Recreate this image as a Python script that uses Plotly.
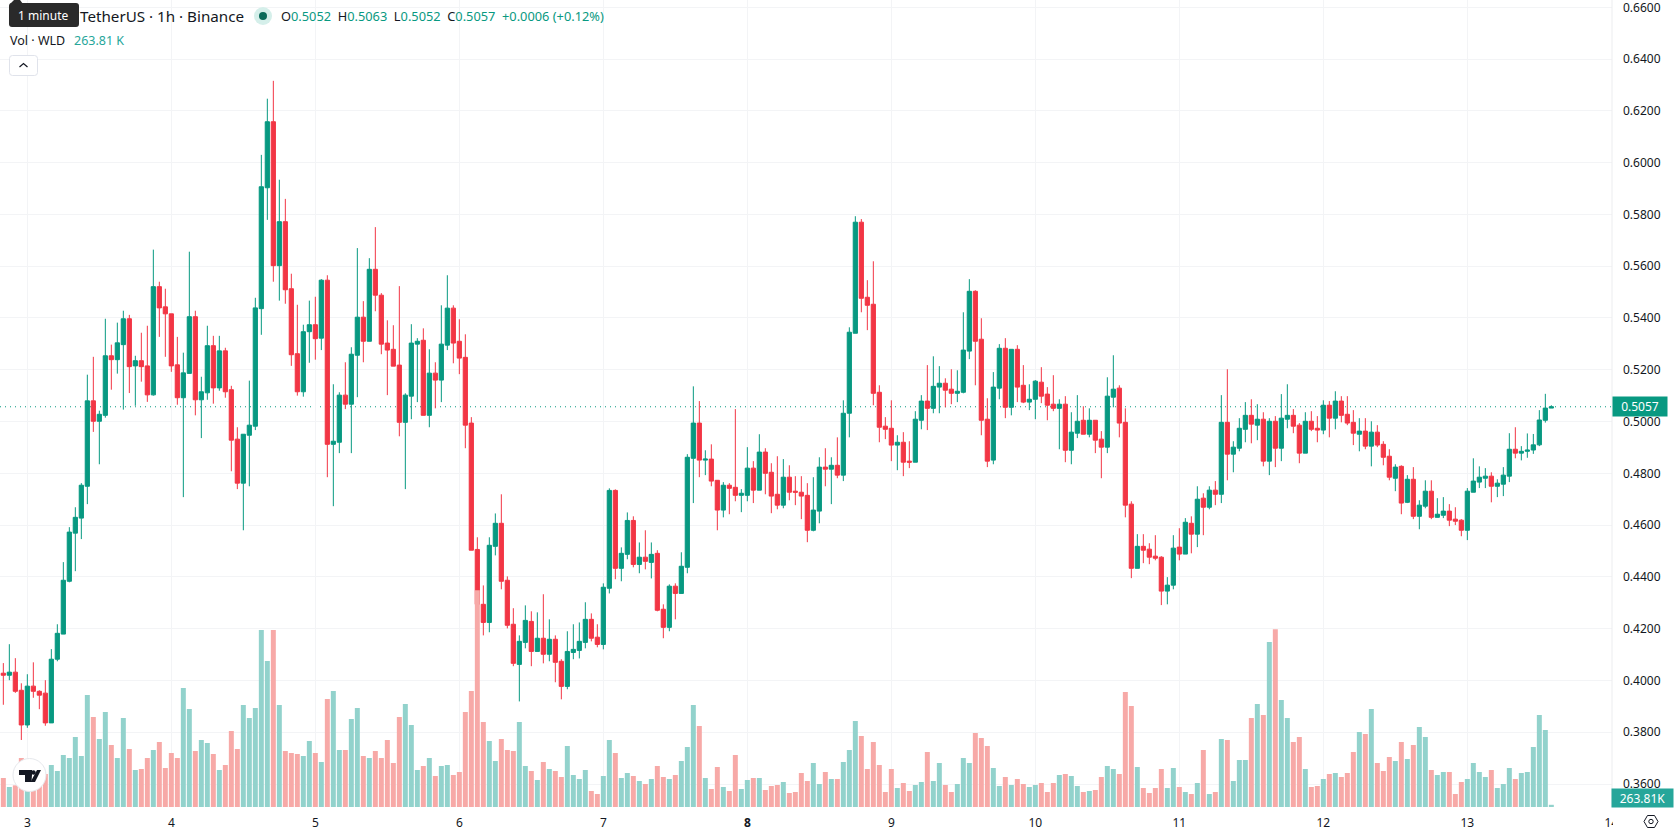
import plotly.graph_objects as go

W, H = 1678, 835
PANE_RIGHT, PANE_BOTTOM = 1612, 807

# Hourly WLD/USDT candles, oldest first
OPEN = [
    .4028,.4020,.4032,.3962,.3828,.3978,.3958,.3951,.3836,.4082,
    .4179,.4383,.4569,.4627,.4750,.5080,.5001,.5024,.5254,.5239,
    .5297,.5397,.5215,.5235,.5215,.5103,.5521,.5443,.5416,.5219,
    .5092,.5186,.5405,.5084,.5111,.5293,.5130,.5273,.5123,.4932,
    .4762,.4947,.4982,.5436,.5903,.6158,.5602,.5772,.5513,.5262,
    .5115,.5347,.5374,.5322,.5546,.4912,.4920,.5102,.5067,.5256,
    .5403,.5310,.5588,.5488,.5303,.5279,.5218,.4997,.5098,.5299,
    .5314,.5024,.5187,.5160,.5295,.5438,.5310,.5248,.4994,.4506,
    .4294,.4224,.4518,.4607,.4387,.4217,.4062,.4147,.4228,.4112,
    .4163,.4101,.4159,.4074,.3977,.4108,.4116,.4147,.4236,.4167,
    .4139,.4356,.4734,.4433,.4487,.4618,.4448,.4476,.4456,.4491,
    .4275,.4205,.4364,.4336,.4437,.4858,.4994,.4851,.4855,.4773,
    .4658,.4754,.4746,.4715,.4715,.4820,.4735,.4882,.4804,.4719,
    .4677,.4785,.4731,.4727,.4715,.4580,.4654,.4824,.4816,.4831,
    .4793,.5032,.5341,.5770,.5480,.5453,.5113,.4982,.4974,.4909,
    .4920,.4847,.4843,.5005,.5079,.5051,.5133,.5148,.5125,.5109,
    .5113,.5272,.5503,.5318,.5009,.4851,.5129,.5283,.5055,.5279,
    .5140,.5075,.5086,.5152,.5106,.5067,.5051,.5067,.4889,.4955,
    .5005,.4951,.5005,.4932,.4901,.5094,.5129,.4997,.4681,.4433,
    .4518,.4507,.4480,.4476,.4345,.4368,.4515,.4488,.4607,.4565,
    .4704,.4669,.4735,.4719,.4997,.4874,.4897,.4970,.5024,.4986,
    .5009,.4847,.5001,.4897,.5009,.5024,.4986,.4878,.5001,.4974,
    .4967,.5063,.5013,.5079,.5028,.4997,.4951,.4963,.4905,.4959,
    .4912,.4866,.4781,.4827,.4688,.4777,.4634,.4673,.4731,.4630,
    .4638,.4654,.4623,.4619,.4580,.4727,.4766,.4781,.4789,.4750,
    .4758,.4789,.4893,.4878,.4885,.4890,.4910,.5005,.5052,
]
HIGH = [
    .4067,.4140,.4086,.3989,.4024,.4070,.3962,.4001,.4121,.4217,
    .4457,.4592,.4669,.4762,.5181,.5250,.5042,.5397,.5297,.5382,
    .5428,.5412,.5254,.5343,.5370,.5664,.5540,.5513,.5416,.5327,
    .5266,.5656,.5428,.5173,.5370,.5331,.5331,.5285,.5138,.4978,
    .4951,.5158,.5478,.6030,.6247,.6316,.5934,.5860,.5571,.5451,
    .5374,.5467,.5482,.5550,.5565,.5144,.5113,.5229,.5287,.5670,
    .5465,.5631,.5751,.5496,.5391,.5372,.5523,.5109,.5376,.5322,
    .5360,.5279,.5229,.5449,.5565,.5449,.5395,.5337,.5017,.4553,
    .4367,.4553,.4645,.4719,.4402,.4279,.4174,.4290,.4267,.4263,
    .4333,.4236,.4174,.4082,.4190,.4217,.4224,.4302,.4259,.4217,
    .4375,.4742,.4738,.4514,.4649,.4634,.4533,.4580,.4533,.4503,
    .4294,.4371,.4375,.4495,.4874,.5136,.5079,.4889,.4912,.4773,
    .4766,.4762,.5048,.4739,.4901,.4847,.4951,.4897,.4839,.4866,
    .4855,.4831,.4789,.4789,.4762,.4785,.4862,.4897,.4862,.4939,
    .5082,.5364,.5793,.5782,.5546,.5619,.5140,.5017,.5082,.4947,
    .4959,.4924,.5040,.5102,.5218,.5252,.5214,.5167,.5202,.5198,
    .5422,.5550,.5507,.5399,.5090,.5191,.5299,.5322,.5279,.5295,
    .5218,.5144,.5160,.5210,.5133,.5179,.5086,.5098,.5036,.5102,
    .5059,.5051,.5005,.4963,.5171,.5256,.5140,.5051,.4692,.4565,
    .4565,.4530,.4561,.4480,.4399,.4561,.4588,.4627,.4634,.4750,
    .4723,.4750,.4770,.5102,.5202,.4924,.5013,.5075,.5086,.5067,
    .5036,.5013,.5021,.5106,.5144,.5048,.4994,.5036,.5040,.5021,
    .5082,.5079,.5117,.5098,.5098,.5044,.5013,.5013,.5001,.4986,
    .4924,.4893,.4835,.4831,.4793,.4824,.4696,.4773,.4773,.4704,
    .4708,.4681,.4669,.4623,.4743,.4858,.4827,.4820,.4804,.4777,
    .4824,.4955,.4978,.4905,.4954,.4952,.5044,.5107,.5063,
]
LOW = [
    .3906,.4001,.3952,.3770,.3817,.3933,.3889,.3825,.3836,.4074,
    .4179,.4379,.4422,.4546,.4681,.4960,.4835,.5015,.5123,.5185,
    .5046,.5110,.5061,.5154,.5076,.5100,.5327,.5250,.5192,.5065,
    .4708,.5186,.5024,.4936,.5084,.5069,.5119,.5092,.4808,.4739,
    .4580,.4750,.4967,.5335,.5779,.5540,.5467,.5455,.5215,.5100,
    .5096,.5227,.5239,.5276,.4785,.4673,.4878,.5048,.4878,.5094,
    .5229,.5310,.5426,.5260,.5102,.5214,.4943,.4739,.5009,.5075,
    .5024,.4978,.5051,.5075,.5276,.5225,.5183,.4897,.4503,.4094,
    .4174,.4186,.4483,.4352,.4201,.4055,.3919,.4124,.4055,.4112,
    .4066,.4074,.3993,.3927,.3966,.4082,.4085,.4124,.4151,.4128,
    .4120,.4336,.4391,.4383,.4468,.4437,.4414,.4429,.4394,.4267,
    .4163,.4190,.4236,.4336,.4414,.4685,.4785,.4793,.4750,.4580,
    .4630,.4642,.4692,.4650,.4692,.4685,.4735,.4719,.4646,.4661,
    .4665,.4696,.4677,.4623,.4534,.4576,.4607,.4750,.4681,.4781,
    .4770,.4939,.5341,.5422,.5353,.5063,.4920,.4932,.4847,.4812,
    .4789,.4820,.4843,.4970,.4967,.5032,.5032,.5055,.5067,.5075,
    .5109,.5241,.5140,.4947,.4824,.4835,.5086,.5013,.5024,.5075,
    .5071,.5044,.5009,.5071,.5005,.5040,.4893,.4843,.4835,.4936,
    .4951,.4939,.4878,.4781,.4878,.5055,.4939,.4630,.4395,.4433,
    .4453,.4449,.4464,.4291,.4294,.4352,.4464,.4488,.4491,.4515,
    .4561,.4661,.4677,.4685,.4773,.4804,.4885,.4920,.4916,.4928,
    .4827,.4793,.4824,.4847,.4974,.4955,.4839,.4878,.4963,.4920,
    .4951,.4939,.4970,.4997,.4986,.4909,.4885,.4893,.4827,.4901,
    .4831,.4773,.4731,.4642,.4685,.4623,.4584,.4665,.4623,.4630,
    .4627,.4596,.4600,.4557,.4542,.4727,.4743,.4743,.4688,.4708,
    .4712,.4766,.4858,.4850,.4860,.4875,.4905,.4996,.5052,
]
CLOSE = [
    .4020,.4032,.3958,.3828,.3978,.3958,.3943,.3836,.4082,.4182,
    .4387,.4573,.4630,.4754,.5080,.5001,.5028,.5254,.5239,.5304,
    .5397,.5212,.5235,.5212,.5103,.5521,.5439,.5416,.5215,.5092,
    .5188,.5405,.5084,.5115,.5293,.5130,.5273,.5115,.4928,.4762,
    .4951,.4986,.5439,.5907,.6158,.5602,.5772,.5509,.5258,.5115,
    .5347,.5374,.5320,.5546,.4912,.4924,.5102,.5067,.5260,.5403,
    .5310,.5588,.5488,.5299,.5276,.5214,.4997,.5102,.5303,.5310,
    .5024,.5187,.5160,.5299,.5438,.5303,.5245,.4986,.4503,.4294,
    .4224,.4522,.4607,.4383,.4213,.4066,.4151,.4232,.4112,.4163,
    .4101,.4159,.4070,.3977,.4112,.4120,.4151,.4236,.4163,.4139,
    .4360,.4734,.4433,.4491,.4618,.4448,.4476,.4460,.4487,.4271,
    .4205,.4364,.4336,.4441,.4862,.4994,.4851,.4855,.4770,.4658,
    .4754,.4742,.4715,.4723,.4820,.4735,.4882,.4800,.4712,.4677,
    .4785,.4727,.4727,.4712,.4580,.4658,.4824,.4816,.4831,.4793,
    .5032,.5345,.5770,.5476,.5449,.5109,.4978,.4970,.4909,.4920,
    .4843,.4843,.5009,.5079,.5051,.5136,.5148,.5121,.5109,.5117,
    .5276,.5503,.5310,.5005,.4847,.5133,.5283,.5055,.5279,.5133,
    .5075,.5086,.5156,.5098,.5063,.5051,.5067,.4889,.4959,.5001,
    .4951,.5005,.4928,.4901,.5098,.5125,.4994,.4677,.4433,.4518,
    .4503,.4476,.4472,.4345,.4368,.4511,.4488,.4611,.4565,.4700,
    .4669,.4735,.4719,.4997,.4874,.4901,.4974,.5024,.4990,.5009,
    .4847,.5001,.4897,.5013,.5024,.4982,.4878,.5001,.4970,.4967,
    .5063,.5013,.5079,.5024,.4994,.4955,.4963,.4905,.4959,.4909,
    .4862,.4785,.4824,.4685,.4777,.4634,.4677,.4731,.4630,.4642,
    .4654,.4619,.4615,.4580,.4731,.4770,.4785,.4789,.4750,.4762,
    .4793,.4893,.4878,.4885,.4890,.4910,.5006,.5052,.5057,
]
# Volume in thousands of WLD
VOLUME_K = [
    3480,2400,2600,5880,3200,3200,3400,3960,5040,4320,
    6240,5880,8400,6120,13440,10800,8160,11400,7440,5880,
    10680,6960,4440,4560,5880,6840,7800,4680,6480,5880,
    14280,11760,6720,8040,7680,6360,4440,5040,9120,6960,
    12240,10680,11880,21240,17520,21240,12240,6720,6480,6360,
    6120,7920,6480,5400,12960,13920,6840,6840,10560,11880,
    6120,5880,6720,5880,8040,5280,10800,12360,9840,4440,
    4920,5880,3720,4920,5040,3840,4200,11400,13920,26000,
    10200,7920,5520,8160,6840,6720,10200,4920,4320,3240,
    5400,4560,4320,3600,7320,3840,3360,4440,1920,1560,
    3720,8040,6480,3480,4080,3720,3120,2760,3360,4920,
    3600,3360,3840,5520,7200,12240,9720,3480,2160,4800,
    2400,1920,6240,2160,3240,3480,3480,2040,2520,2640,
    3000,1680,1800,4080,3120,5280,2760,4200,3360,3360,
    5400,6840,10320,8520,4560,7800,5040,1800,4560,2280,
    2880,1920,2640,3000,6600,3120,5280,2640,1800,2760,
    5880,5280,8880,8280,7320,4680,2520,3600,2640,3360,
    2760,2400,2640,2880,1800,2880,3840,3960,3720,2520,
    1800,1920,2040,3600,4920,4560,3960,13800,12120,4800,
    2280,1680,2280,4560,2280,4680,2400,1800,1560,2880,
    6840,1560,1800,8160,8040,3120,5640,5640,10680,12360,
    11040,19800,21320,12840,10680,7800,8400,4560,2400,2520,
    3360,3960,4080,3600,4080,6600,9000,8760,11760,5280,
    4320,6000,5520,7800,5760,7440,9600,8400,4440,3840,
    4200,4200,1560,3000,3360,5280,4200,3600,4440,2280,
    2760,4680,3360,4080,4200,7200,11040,9240,263.81,
]

# Price scale, day ticks and the readouts in the legend
PRICE_TICKS = [.36,.38,.40,.42,.44,.46,.48,.50,.52,.54,.56,.58,.60,.62,.64,.66]
DAY_TICK_INDEX = [4,28,52,76,100,124,148,172,196,220,244,268]
DAY_LABELS = ["3","4","5","6","7","<b>8</b>","9","10","11","12","13","14"]
LAST_OPEN, LAST_HIGH, LAST_LOW, LAST_CLOSE = .5052, .5063, .5052, .5057
LAST_CHANGE, LAST_PERCENT = "+0.0006", "+0.12%"
LAST_VOLUME = "263.81K"

UP, DOWN = "#089981", "#F23645"
UP_VOL, DOWN_VOL = "#92D2CC", "#F7A9A7"
GRID = "#F3F4F6"
INK = "#131722"
FONT = "Noto Sans"

hours = list(range(len(CLOSE)))

# Pixel scale of the pane: one candle every 6px, first candle centred at 3.33px
x_range = [-3.33 / 6, (PANE_RIGHT - 3.33) / 6]
price_range = [.66 - (PANE_BOTTOM - 7.3) / 2589, .66 + 7.3 / 2589]
volume_range = [0, PANE_BOTTOM * 120]


def pt(x, y):
    return f"{x / W:.5f},{1 - y / H:.5f}"


def rounded(x0, y0, x1, y1, r):
    return (
        f"M{pt(x0 + r, y0)} L{pt(x1 - r, y0)} Q{pt(x1, y0)} {pt(x1, y0 + r)} "
        f"L{pt(x1, y1 - r)} Q{pt(x1, y1)} {pt(x1 - r, y1)} "
        f"L{pt(x0 + r, y1)} Q{pt(x0, y1)} {pt(x0, y1 - r)} "
        f"L{pt(x0, y0 + r)} Q{pt(x0, y0)} {pt(x0 + r, y0)} Z"
    )


def poly(points):
    return "M" + " L".join(pt(x, y) for x, y in points) + " Z"


def paper_path(path, fill="rgba(0,0,0,0)", line="rgba(0,0,0,0)", width=0):
    return dict(type="path", xref="paper", yref="paper", path=path,
                fillcolor=fill, line=dict(color=line, width=width), layer="above")


def paper_circle(cx, cy, r, fill, line="rgba(0,0,0,0)", width=0):
    return dict(type="circle", xref="paper", yref="paper",
                x0=(cx - r) / W, x1=(cx + r) / W,
                y0=1 - (cy + r) / H, y1=1 - (cy - r) / H,
                fillcolor=fill, line=dict(color=line, width=width), layer="above")


def label(x, y, text, size=13, color=INK, anchor="left"):
    return dict(xref="paper", yref="paper", x=x / W, y=1 - y / H, text=text,
                showarrow=False, xanchor=anchor, yanchor="middle",
                font=dict(family=FONT, size=size, color=color))


fig = go.Figure()

fig.add_trace(go.Bar(
    x=hours, y=VOLUME_K, yaxis="y2", width=0.83,
    marker=dict(color=[UP_VOL if c >= o else DOWN_VOL for o, c in zip(OPEN, CLOSE)], line_width=0),
    hoverinfo="skip", showlegend=False,
))
fig.add_trace(go.Candlestick(
    x=hours, open=OPEN, high=HIGH, low=LOW, close=CLOSE,
    increasing=dict(line=dict(color=UP, width=1), fillcolor=UP),
    decreasing=dict(line=dict(color=DOWN, width=1), fillcolor=DOWN),
    whiskerwidth=0, hoverinfo="skip", showlegend=False,
))

shapes = [
    # last price line
    dict(type="line", xref="paper", yref="y", x0=0, x1=PANE_RIGHT / W,
         y0=LAST_CLOSE, y1=LAST_CLOSE, layer="below",
         line=dict(color=UP, width=1, dash="1px,4px")),
    # pane edge
    dict(type="line", xref="paper", yref="paper", x0=PANE_RIGHT / W, x1=PANE_RIGHT / W,
         y0=1 - PANE_BOTTOM / H, y1=1, layer="above", line=dict(color="#ECEDEF", width=1)),
    # price scale strip hides whatever runs past the pane on the time axis
    dict(type="rect", xref="paper", yref="paper", x0=(PANE_RIGHT + 1) / W, x1=1,
         y0=0, y1=1 - (PANE_BOTTOM + 1) / H, fillcolor="white", line_width=0, layer="above"),
    # interval tooltip
    paper_path(rounded(9, 3, 79, 27, 3), fill="#2A2A2A"),
    paper_path(poly([(10, 4), (14, 0), (20, 0), (23, 4)]), fill="#2A2A2A"),
    # market status dot
    paper_circle(263, 16, 9, "#D5EFEA"),
    paper_circle(263, 16, 4, "#0B6B5A"),
    # collapse button
    paper_path(rounded(9.5, 55.5, 37.5, 75.5, 3), fill="white", line="#E0E3EB", width=1),
    paper_path("M" + pt(19.5, 67) + " L" + pt(23.5, 63.5) + " L" + pt(27.5, 67), line=INK, width=1.2),
    # logo badge
    paper_circle(29.5, 775, 16.5, "white", "#E6E8EC", 1),
    paper_path(poly([(19, 770), (32, 770), (32, 775), (31.5, 782), (25, 782), (25, 775), (19, 775)]), fill="#131722"),
    paper_path(poly([(37, 770), (41, 770), (35, 782), (30.5, 782)]), fill="#131722"),
    paper_circle(33.5, 772.5, 2.2, "#131722"),
    # settings button on the time axis
    paper_path(poly([(1644, 821.5), (1647.5, 815.5), (1654.5, 815.5), (1658, 821.5), (1654.5, 827.5), (1647.5, 827.5)]),
               line=INK, width=1),
    paper_circle(1651, 821.5, 2.2, "white", INK, 1),
]

ohlc_text = (
    f"O<span style='color:{UP}'>{LAST_OPEN:.4f}</span>  "
    f"H<span style='color:{UP}'>{LAST_HIGH:.4f}</span>  "
    f"L<span style='color:{UP}'>{LAST_LOW:.4f}</span>  "
    f"C<span style='color:{UP}'>{LAST_CLOSE:.4f}</span>  "
    f"<span style='color:{UP}'>{LAST_CHANGE} ({LAST_PERCENT})</span>"
)

annotations = [
    label(78, 16, "TetherUS · 1h · Binance", size=15.2),
    label(16, 15, "1 minute", size=12, color="#FFFFFF"),
    label(279, 16, ohlc_text, size=12.8),
    label(8, 40, "Vol · WLD", size=12.5),
    label(72, 40, "263.81 K", size=12.5, color="#26A69A"),
    dict(xref="paper", yref="y", x=1640 / W, y=LAST_CLOSE, text=f"{LAST_CLOSE:.4f}",
         showarrow=False, width=52, height=17, bgcolor=UP, xanchor="center", yanchor="middle",
         font=dict(family=FONT, size=12, color="white")),
    dict(xref="paper", yref="paper", x=1642 / W, y=1 - 797.5 / H, text=LAST_VOLUME,
         showarrow=False, width=59, height=16, bgcolor="#26A69A", xanchor="center", yanchor="middle",
         font=dict(family=FONT, size=12, color="white")),
]

fig.update_layout(
    width=W, height=H, margin=dict(l=0, r=0, t=0, b=0),
    paper_bgcolor="white", plot_bgcolor="white",
    showlegend=False, hovermode=False, dragmode=False,
    boxgap=0.3, boxgroupgap=0, barmode="overlay",
    font=dict(family=FONT, color=INK, size=12),
    shapes=shapes, annotations=annotations,
    xaxis=dict(
        domain=[0, PANE_RIGHT / W], range=x_range, rangeslider=dict(visible=False),
        tickmode="array", tickvals=DAY_TICK_INDEX, ticktext=DAY_LABELS,
        showgrid=True, gridcolor=GRID, gridwidth=1, zeroline=False, showline=False,
        ticks="", ticklabelstandoff=7, tickfont=dict(family=FONT, size=12, color=INK),
        anchor="y", automargin=False, ticklabeloverflow="allow",
    ),
    yaxis=dict(
        domain=[1 - PANE_BOTTOM / H, 1], range=price_range, side="right",
        tickmode="array", tickvals=PRICE_TICKS, tickformat=".4f",
        showgrid=True, gridcolor=GRID, gridwidth=1, zeroline=False, showline=False,
        ticks="", ticklabelstandoff=10, tickfont=dict(family=FONT, size=12, color=INK),
        anchor="x", automargin=False, ticklabeloverflow="allow",
    ),
    yaxis2=dict(
        domain=[1 - PANE_BOTTOM / H, 1], range=volume_range, overlaying="y",
        visible=False, anchor="x",
    ),
)

fig.write_html("out.html", config=dict(displayModeBar=False))
